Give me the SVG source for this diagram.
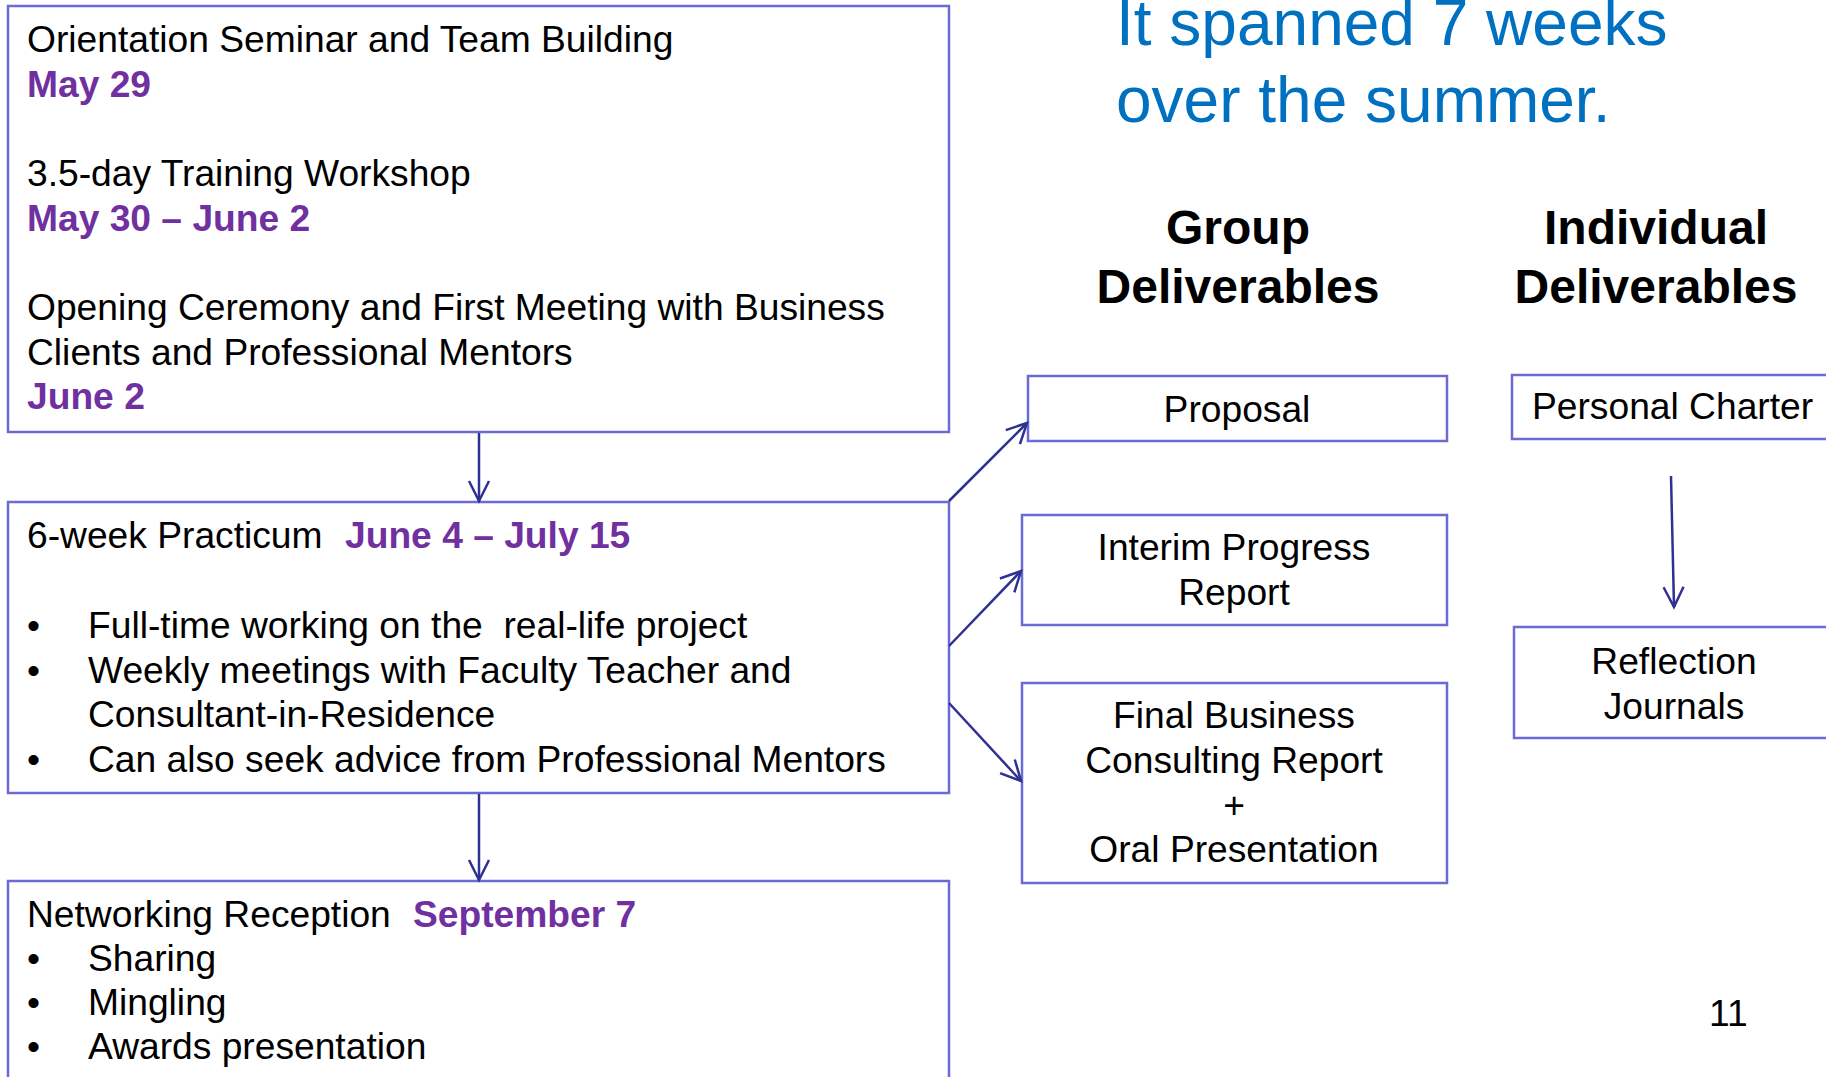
<svg xmlns="http://www.w3.org/2000/svg" width="1826" height="1077" viewBox="0 0 1826 1077">
<style>
text{font-family:"Liberation Sans",Arial,sans-serif;fill:#000}
.t{font-size:37.2px}
.d{font-size:37.2px;font-weight:bold;fill:#7030A0}
.h{font-size:48px;font-weight:bold}
.ttl{font-size:64px;fill:#0070C0}
.box{fill:#fff;stroke:#6B6BD6;stroke-width:2.5}
.c{text-anchor:middle}
.arr{fill:none;stroke:#2E3192;stroke-width:2.5;marker-end:url(#ah)}
</style>
<defs>
<marker id="ah" markerUnits="userSpaceOnUse" markerWidth="30" markerHeight="30" viewBox="-25 -15 30 30" refX="0" refY="0" orient="auto">
<path d="M-20,-10 L0,0 L-20,10" fill="none" stroke="#2E3192" stroke-width="2.5"/>
</marker>
</defs>
<rect width="1826" height="1077" fill="#fff"/>

<g id="title">
<text class="ttl" x="1116" y="45">It spanned 7 weeks</text>
<text class="ttl" x="1116" y="122">over the summer.</text>
</g>

<g id="heading-group">
<text class="h c" x="1238" y="244">Group</text>
<text class="h c" x="1238" y="303">Deliverables</text>
</g>
<g id="heading-individual">
<text class="h c" x="1656" y="244">Individual</text>
<text class="h c" x="1656" y="303">Deliverables</text>
</g>

<g id="orientation">
<rect class="box" x="8" y="6" width="941" height="426"/>
<text class="t" x="27" y="52">Orientation Seminar and Team Building</text>
<text class="d" x="27" y="97">May 29</text>
<text class="t" x="27" y="186">3.5-day Training Workshop</text>
<text class="d" x="27" y="231">May 30 – June 2</text>
<text class="t" x="27" y="320">Opening Ceremony and First Meeting with Business</text>
<text class="t" x="27" y="365">Clients and Professional Mentors</text>
<text class="d" x="27" y="409">June 2</text>
</g>

<g id="practicum">
<rect class="box" x="8" y="502" width="941" height="291"/>
<text class="t" x="27" y="548">6-week Practicum<tspan class="d" x="345">June 4 – July 15</tspan></text>
<text class="t" x="27" y="638">•</text>
<text class="t" x="88" y="638">Full-time working on the&#160; real-life project</text>
<text class="t" x="27" y="683">•</text>
<text class="t" x="88" y="683">Weekly meetings with Faculty Teacher and</text>
<text class="t" x="88" y="727">Consultant-in-Residence</text>
<text class="t" x="27" y="772">•</text>
<text class="t" x="88" y="772">Can also seek advice from Professional Mentors</text>
</g>

<g id="networking">
<rect class="box" x="8" y="881" width="941" height="220"/>
<text class="t" x="27" y="927">Networking Reception<tspan class="d" x="413">September 7</tspan></text>
<text class="t" x="27" y="971">•</text>
<text class="t" x="88" y="971">Sharing</text>
<text class="t" x="27" y="1015">•</text>
<text class="t" x="88" y="1015">Mingling</text>
<text class="t" x="27" y="1059">•</text>
<text class="t" x="88" y="1059">Awards presentation</text>
</g>

<g id="proposal">
<rect class="box" x="1028" y="376" width="419" height="65"/>
<text class="t c" x="1237" y="422">Proposal</text>
</g>

<g id="interim">
<rect class="box" x="1022" y="515" width="425" height="110"/>
<text class="t c" x="1234" y="560">Interim Progress</text>
<text class="t c" x="1234" y="605">Report</text>
</g>

<g id="final">
<rect class="box" x="1022" y="683" width="425" height="200"/>
<text class="t c" x="1234" y="728">Final Business</text>
<text class="t c" x="1234" y="773">Consulting Report</text>
<text class="t c" x="1234" y="818">+</text>
<text class="t c" x="1234" y="862">Oral Presentation</text>
</g>

<g id="personal-charter">
<rect class="box" x="1512" y="375" width="330" height="64"/>
<text class="t" x="1532" y="419">Personal Charter</text>
</g>

<g id="reflection">
<rect class="box" x="1514" y="627" width="330" height="111"/>
<text class="t c" x="1674" y="674">Reflection</text>
<text class="t c" x="1674" y="719">Journals</text>
</g>

<g id="connectors">
<line class="arr" x1="479" y1="433" x2="479" y2="501"/>
<line class="arr" x1="479" y1="794" x2="479" y2="880"/>
<line class="arr" x1="949" y1="501" x2="1027" y2="423"/>
<line class="arr" x1="949" y1="646" x2="1021" y2="571"/>
<line class="arr" x1="949" y1="703" x2="1021" y2="781"/>
<line class="arr" x1="1671" y1="476" x2="1674" y2="607"/>
</g>

<g id="page-number">
<text class="t" x="1709" y="1026">11</text>
</g>
</svg>
